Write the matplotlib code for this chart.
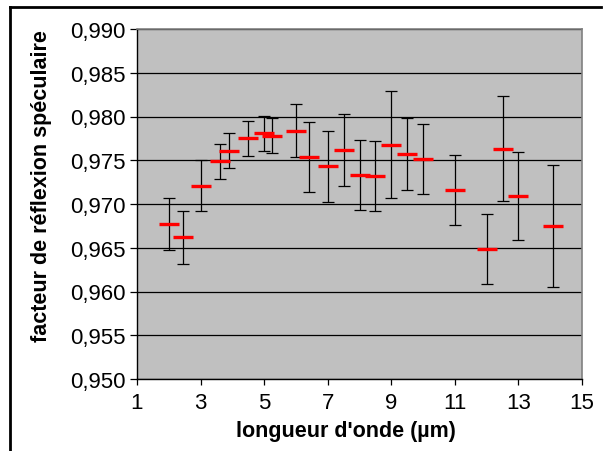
import numpy as np
import matplotlib.pyplot as plt
from matplotlib.lines import Line2D
from matplotlib.ticker import FuncFormatter

plt.rcParams['font.family'] = ['Liberation Sans', 'DejaVu Sans']

# longueur d'onde (um) et facteur de reflexion
wl = [2.0, 2.45, 3.0, 3.6, 3.9, 4.5, 5.0, 5.25, 6.0, 6.4, 7.0, 7.5, 8.0, 8.5,
      9.0, 9.5, 10.0, 11.0, 12.0, 12.5, 13.0, 14.1]
refl = [0.9677, 0.9662, 0.9721, 0.9749, 0.9761, 0.9775, 0.9781, 0.9778, 0.9784,
        0.9754, 0.9743, 0.9762, 0.9733, 0.9732, 0.9768, 0.9757, 0.9752, 0.9716,
        0.9649, 0.9763, 0.9709, 0.9675]
err = [0.0030, 0.0030, 0.0029, 0.0020, 0.0020, 0.0020, 0.0020, 0.0020, 0.0030,
       0.0040, 0.0041, 0.0041, 0.0040, 0.0040, 0.0061, 0.0041, 0.0040, 0.0040,
       0.0040, 0.0060, 0.0050, 0.0070]

fig = plt.figure(figsize=(6.03, 4.52), dpi=100)
ax = fig.add_axes([137/603, 1 - 380/452, 445/603, 350/452])

# cadre du graphique (haut et gauche)
W, H = 603, 452
fig.lines.append(Line2D([10/W, 601/W], [1 - 8/H, 1 - 8/H], transform=fig.transFigure,
                        color='black', linewidth=2.0))
fig.lines.append(Line2D([10/W, 10/W], [1 - 8/H, 0], transform=fig.transFigure,
                        color='black', linewidth=2.0))

ax.set_facecolor('#c0c0c0')
ax.set_xlim(1, 15)
ax.set_ylim(0.950, 0.990)
ax.set_xticks(np.arange(1, 16, 2))
ax.set_yticks(np.arange(0.950, 0.9901, 0.005))
ax.yaxis.set_major_formatter(FuncFormatter(lambda v, p: f'{v:.3f}'.replace('.', ',')))
ax.grid(axis='y', color='black', linewidth=0.9)
ax.set_axisbelow(True)

ax.errorbar(wl, refl, yerr=err, fmt='none', ecolor='black', elinewidth=0.9,
            capsize=4, capthick=0.9, zorder=3)
ax.plot(wl, refl, linestyle='none', marker='_', markersize=15, markeredgewidth=2.4,
        color='red', zorder=4)

for s in ['top', 'right']:
    ax.spines[s].set_color('#808080')
    ax.spines[s].set_linewidth(1.2)
for s in ['left', 'bottom']:
    ax.spines[s].set_color('black')
    ax.spines[s].set_linewidth(1.0)

ax.tick_params(axis='both', direction='out', width=0.9, labelsize=16)
ax.tick_params(axis='y', length=5, pad=3)
ax.tick_params(axis='x', length=4.5, pad=5)

ax.set_xlabel("longueur d'onde (µm)", fontsize=15.5, fontweight='bold')
ax.set_ylabel('facteur de réflexion spéculaire', fontsize=15.5, fontweight='bold')
ax.xaxis.set_label_coords(0.47, -0.117)
ax.yaxis.set_label_coords(-0.191, 0.553)

fig.savefig('out.png', dpi=100)
